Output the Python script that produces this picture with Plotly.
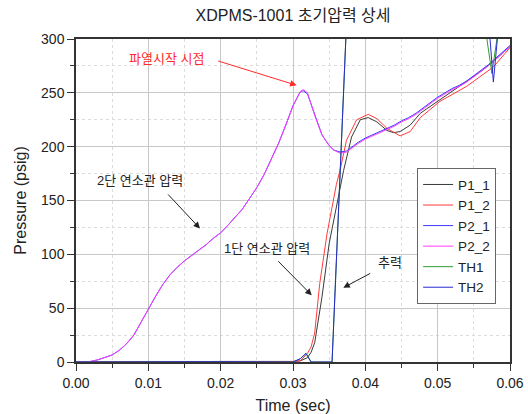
import plotly.graph_objects as go

# ---------------- data ----------------
t_p2 = [0, 0.001, 0.002, 0.003, 0.004, 0.005, 0.006, 0.007, 0.008, 0.009, 0.010,
        0.011, 0.012, 0.013, 0.014, 0.015, 0.016, 0.017, 0.018, 0.019, 0.020,
        0.021, 0.022, 0.023, 0.024, 0.025, 0.026, 0.027, 0.028, 0.029, 0.030,
        0.031, 0.0314, 0.032, 0.033, 0.034, 0.035, 0.0356, 0.0365, 0.0374, 0.038,
        0.039, 0.040, 0.041, 0.042, 0.043, 0.044, 0.045, 0.046, 0.047, 0.048,
        0.049, 0.050, 0.051, 0.052, 0.053, 0.054, 0.055, 0.056, 0.057, 0.058,
        0.059, 0.060]
p2_2 = [0, 0, 0.5, 2, 4, 6.5, 11, 17, 25, 37, 50,
        61, 72, 81, 88, 94, 99, 104, 109, 115, 120,
        127, 134, 142, 152, 162, 174, 188, 203, 220, 238,
        251, 253, 250, 229, 211, 201, 197, 194, 195, 198,
        203, 207, 210, 213, 216, 219, 223, 226, 230, 235,
        240, 245, 249, 253, 256, 260, 265, 270, 275, 281,
        287, 293]
p2_1 = [0, 0, 0.5, 2, 4, 6.5, 11, 17, 25, 37, 50,
        61, 72, 81, 88, 94, 99, 104, 109, 115, 120,
        127, 134, 142, 152, 162, 174, 188, 203, 220, 238,
        251, 252, 249, 229, 211, 201, 197, 195, 196, 199,
        204, 208, 211, 214, 217, 220, 224, 227, 231, 236,
        241, 246, 250, 254, 257, 261, 266, 271, 276, 282,
        288, 294]

t_p1_1 = [0, 0.010, 0.020, 0.030, 0.031, 0.032, 0.0325, 0.033, 0.034, 0.035,
          0.0359, 0.037, 0.0381, 0.0393, 0.0404, 0.0416, 0.043, 0.0439, 0.0448,
          0.0462, 0.0476, 0.050, 0.0531, 0.056, 0.058, 0.060]
p1_1 = [0, 0.5, 0.5, 0.5, 1, 4, 9, 18, 60, 110,
        141, 178, 209, 225, 227, 223, 215, 213, 214,
        220, 231, 242, 256, 270, 281, 293]

t_p1_2 = [0, 0.010, 0.020, 0.030, 0.031, 0.032, 0.0325, 0.033, 0.0337, 0.0347,
          0.0353, 0.036, 0.0365, 0.0374, 0.0388, 0.0404, 0.0416, 0.043, 0.0448,
          0.0462, 0.0476, 0.0503, 0.054, 0.0577, 0.060]
p1_2 = [0, 0.5, 0.5, 0.5, 1, 8, 14, 27, 73, 119,
        141, 165, 178, 206, 225, 230, 226, 217, 210,
        214, 227, 242, 256, 274, 292]

t_th1 = [0, 0.010, 0.020, 0.030, 0.031, 0.0318, 0.0325, 0.0354, 0.038, 0.045,
         0.055, 0.0565, 0.0575, 0.0583, 0.060]
th1 = [0, 0.3, 0.3, 0, 3, 8, 0, 0, 410, 500,
       450, 314, 268, 305, 340]

t_th2 = [0, 0.010, 0.020, 0.030, 0.031, 0.0318, 0.0325, 0.0354, 0.038, 0.045,
         0.055, 0.0570, 0.0577, 0.0585, 0.060]
th2 = [0, 0.3, 0.3, 0, 3, 8, 0, 0, 410, 500,
       450, 321, 260, 318, 340]

x_ticks = [0, 0.01, 0.02, 0.03, 0.04, 0.05, 0.06]
y_ticks = [0, 50, 100, 150, 200, 250, 300]

series = [
    ("P1_1", t_p1_1, p1_1, "#3a3a3a"),
    ("P1_2", t_p1_2, p1_2, "#ff3b3b"),
    ("P2_1", t_p2, p2_1, "#3b3bff"),
    ("P2_2", t_p2, p2_2, "#ff3bff"),
    ("TH1", t_th1, th1, "#2e9e2e"),
    ("TH2", t_th2, th2, "#2a2ad0"),
]

FONT = "Arial, 'Liberation Sans', 'Noto Sans CJK KR', sans-serif"

fig = go.Figure()
for name, tx, ty, col in series:
    fig.add_trace(go.Scatter(x=tx, y=ty, name=name, mode="lines",
                             line=dict(color=col, width=1)))

fig.update_layout(
    width=528, height=414,
    margin=dict(l=76, r=18, t=39, b=52),
    paper_bgcolor="white", plot_bgcolor="white",
    font=dict(family=FONT, color="#222", size=14),
    title=dict(text="XDPMS-1001 초기압력 상세", x=(76 + 510) / 2 / 528, xanchor="center",
               y=1 - 15 / 414, yanchor="middle", font=dict(size=16, color="#222")),
    legend=dict(x=0.786, y=0.6, xanchor="left", yanchor="top",
                bgcolor="white", bordercolor="#666", borderwidth=1,
                font=dict(size=13.5, color="#222"), tracegroupgap=0),
    showlegend=True,
)

fig.update_xaxes(range=[0, 0.06], tickvals=x_ticks, tickformat=".2f", automargin=False,
                 showline=True, linecolor="#333", linewidth=1.5, mirror=True,
                 ticks="outside", ticklen=7, tickcolor="#333",
                 showgrid=True, gridcolor="#c8c8c8", gridwidth=1, zeroline=False,
                 minor=dict(dtick=0.005, showgrid=True, gridcolor="#dcdcdc", griddash="dot",
                            ticks="outside", ticklen=4, tickcolor="#333"),
                 title=dict(text="Time (sec)", font=dict(size=16), standoff=12))
fig.update_yaxes(range=[0, 300], tickvals=y_ticks, automargin=False,
                 showline=True, linecolor="#333", linewidth=1.5, mirror=True,
                 ticks="outside", ticklen=7, tickcolor="#333",
                 showgrid=True, gridcolor="#c8c8c8", gridwidth=1, zeroline=False,
                 minor=dict(dtick=25, showgrid=True, gridcolor="#dcdcdc", griddash="dot",
                            ticks="outside", ticklen=4, tickcolor="#333"),
                 title=dict(text="Pressure (psig)", font=dict(size=16), standoff=10))

# text labels
labels = [
    ("파열시작 시점", 0.01245, 282, "#ff2a2a"),
    ("2단 연소관 압력", 0.00885, 169, "#222"),
    ("1단 연소관 압력", 0.0264, 105, "#222"),
    ("추력", 0.0434, 92, "#222"),
]
for txt, lx, ly, col in labels:
    fig.add_annotation(x=lx, y=ly, text=txt, showarrow=False,
                       font=dict(size=13, color=col), xref="x", yref="y")

arrows = [
    (0.0305, 257, 0.01945, 280, "#ff2a2a"),
    (0.01714, 124, 0.01254, 157, "#222"),
    (0.03259, 62, 0.02775, 95, "#222"),
    (0.03696, 69, 0.04088, 83, "#222"),
]
for hx, hy, tx_, ty_, col in arrows:
    fig.add_annotation(x=hx, y=hy, ax=tx_, ay=ty_, xref="x", yref="y",
                       axref="x", ayref="y", text="", showarrow=True,
                       arrowhead=2, arrowsize=1.3, arrowwidth=1, arrowcolor=col)

fig.write_html("out.html")
